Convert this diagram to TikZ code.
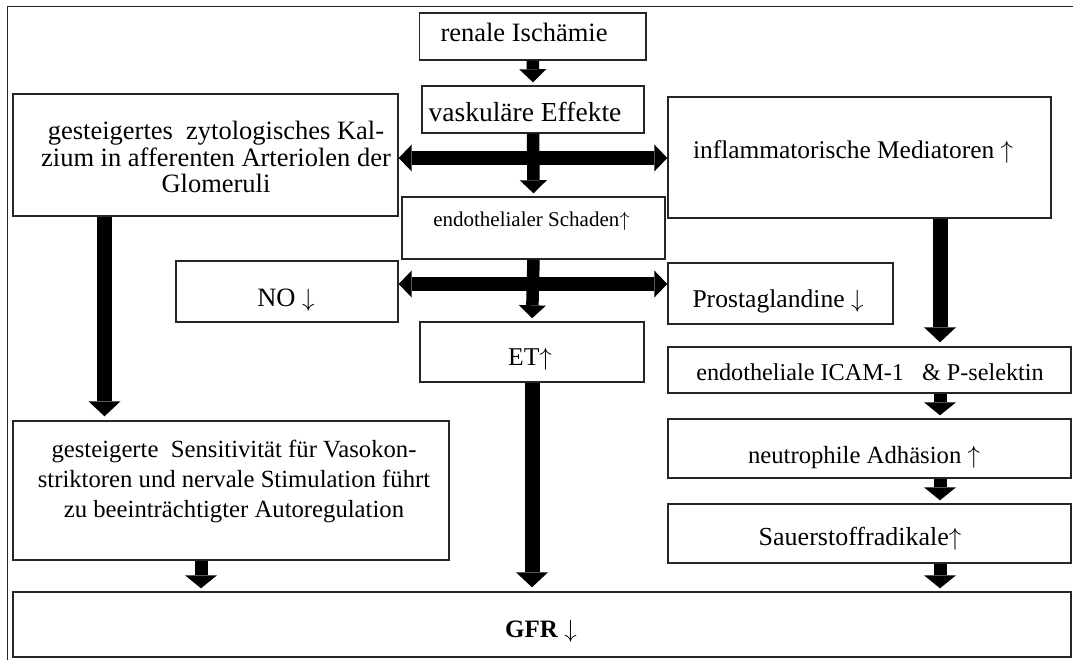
\documentclass[tikz,border=0pt]{standalone}
\usepackage{fontspec}
\setmainfont{Liberation Serif}
\usetikzlibrary{arrows.meta}
\newcommand{\up}{\ensuremath{\uparrow}}
\newcommand{\dn}{\ensuremath{\downarrow}}
\begin{document}
\begin{tikzpicture}[x=1pt,y=-1pt,
  box/.style={draw=black!85, line width=1.4pt, rectangle, inner sep=0pt, fill=white},
  txt/.style={inner sep=0pt, anchor=base, text=black},
  txtc/.style={inner sep=0pt, anchor=center, align=center, text=black},
  f/.style 2 args={font=\fontsize{#1}{#2}\selectfont},
  bigarr/.style={line width=15pt, -{Triangle[width=32pt,length=15pt,line width=0pt]}, shorten >=4pt},
  shortarr/.style={line width=13pt, -{Triangle[width=32pt,length=13pt,line width=0pt]}, shorten >=3pt},
  midarr/.style={line width=12.5pt, -{Triangle[width=27pt,length=13pt,line width=0pt]}, shorten >=3pt},
  dblarr/.style={line width=13.5pt, {Triangle[width=27pt,length=13pt,line width=0pt]}-{Triangle[width=27pt,length=13pt,line width=0pt]}},
  frame/.style={line width=1.8pt, draw=black!85}
]
\useasboundingbox (0,0) rectangle (1073,660);
\fill[white] (0,0) rectangle (1073,660);
\draw[frame] (7.5,662) -- (7.5,6.5) -- (1075,6.5);

% boxes
\node[box, minimum width=226.5pt, minimum height=47pt] (ren)  at (532.75,36.5) {};
\node[box, minimum width=222pt,   minimum height=47pt] (vas)  at (533,109.5) {};
\node[box, minimum width=385pt,   minimum height=122pt] (kal) at (205.5,155) {};
\node[box, minimum width=383pt,   minimum height=121pt] (infl) at (859.5,157.5) {};
\node[box, minimum width=263pt,   minimum height=62pt] (endo) at (533.5,228) {};
\node[box, minimum width=222pt,   minimum height=61pt] (no)   at (287,291.5) {};
\node[box, minimum width=225pt,   minimum height=61pt] (pro)  at (780.5,293.5) {};
\node[box, minimum width=224pt,   minimum height=60pt] (et)   at (532,352) {};
\node[box, minimum width=403pt,   minimum height=46pt] (icam) at (869.5,370) {};
\node[box, minimum width=436pt,   minimum height=139pt] (sens) at (231,490.5) {};
\node[box, minimum width=403pt,   minimum height=59pt] (neu)  at (869.5,448.5) {};
\node[box, minimum width=403pt,   minimum height=59pt] (sau)  at (869.5,533.5) {};
\node[box, minimum width=1058pt,  minimum height=65pt] (gfr)  at (542,624.5) {};

% texts
\node[txt, f={26.5}{27}] (tren) at (524,42) {renale Ischämie};
\node[txt, f={27.5}{28}] (tvas) at (525,122) {vaskuläre Effekte};
\node[txtc, f={26.5}{26.5}] (tkal) at (216,157) {gesteigertes\ \ zytologisches Kal-\\zium in afferenten Arteriolen der\\Glomeruli};
\node[txt, f={25.4}{26}] (tinf) at (853,159) {inflammatorische Mediatoren \up};
\node[txt, f={21}{22}] (tendo) at (531.5,227) {endothelialer Schaden\up};
\node[txt, f={26.5}{27}] (tno) at (286,306) {NO \dn};
\node[txt, f={25.6}{26}] (tpro) at (778,307) {Prostaglandine \dn};
\node[txt, f={25.6}{26}] (tet) at (530,365) {ET\up};
\node[txt, f={24.2}{25}] (ticam) at (870,380) {endotheliale ICAM-1~~~\& P-selektin};
\node[txt, f={24.7}{25}] (tneu) at (864,463) {neutrophile Adhäsion \up};
\node[txt, f={26}{26}] (tsau) at (860,545) {Sauerstoffradikale\up};
\node[txt, f={25}{26}] (tgfr) at (541,637) {\textbf{GFR} \dn};
\node[txtc, f={24.7}{30}] (tsens) at (234,481) {gesteigerte\ \ Sensitivität für Vasokon-\\striktoren und nervale Stimulation führt\\zu beeinträchtigter Autoregulation};

% helper coordinates
\coordinate (h1) at (533,158);
\coordinate (h2) at (533,284);
\coordinate (va) at (104.5,0);
\coordinate (vb) at (201,0);
\coordinate (vc) at (940,0);

% connectors
\draw[midarr] (ren.south) -- (vas.north);
\draw[dblarr] (kal.east |- h1) -- (infl.west |- h1);
\draw[midarr] (vas.south) -- (endo.north);
\draw[dblarr] (no.east |- h2) -- (pro.west |- h2);
\draw[midarr] (endo.south) -- (et.north);
\draw[bigarr] (kal.south -| va) -- (sens.north -| va);
\draw[bigarr] (et.south) -- (et.south |- gfr.north);
\draw[shortarr] (sens.south -| vb) -- (gfr.north -| vb);
\draw[bigarr] (infl.south -| vc) -- (icam.north -| vc);
\draw[shortarr] (icam.south -| vc) -- (neu.north -| vc);
\draw[shortarr] (neu.south -| vc) -- (sau.north -| vc);
\draw[shortarr] (sau.south -| vc) -- (gfr.north -| vc);
\end{tikzpicture}
\end{document}
